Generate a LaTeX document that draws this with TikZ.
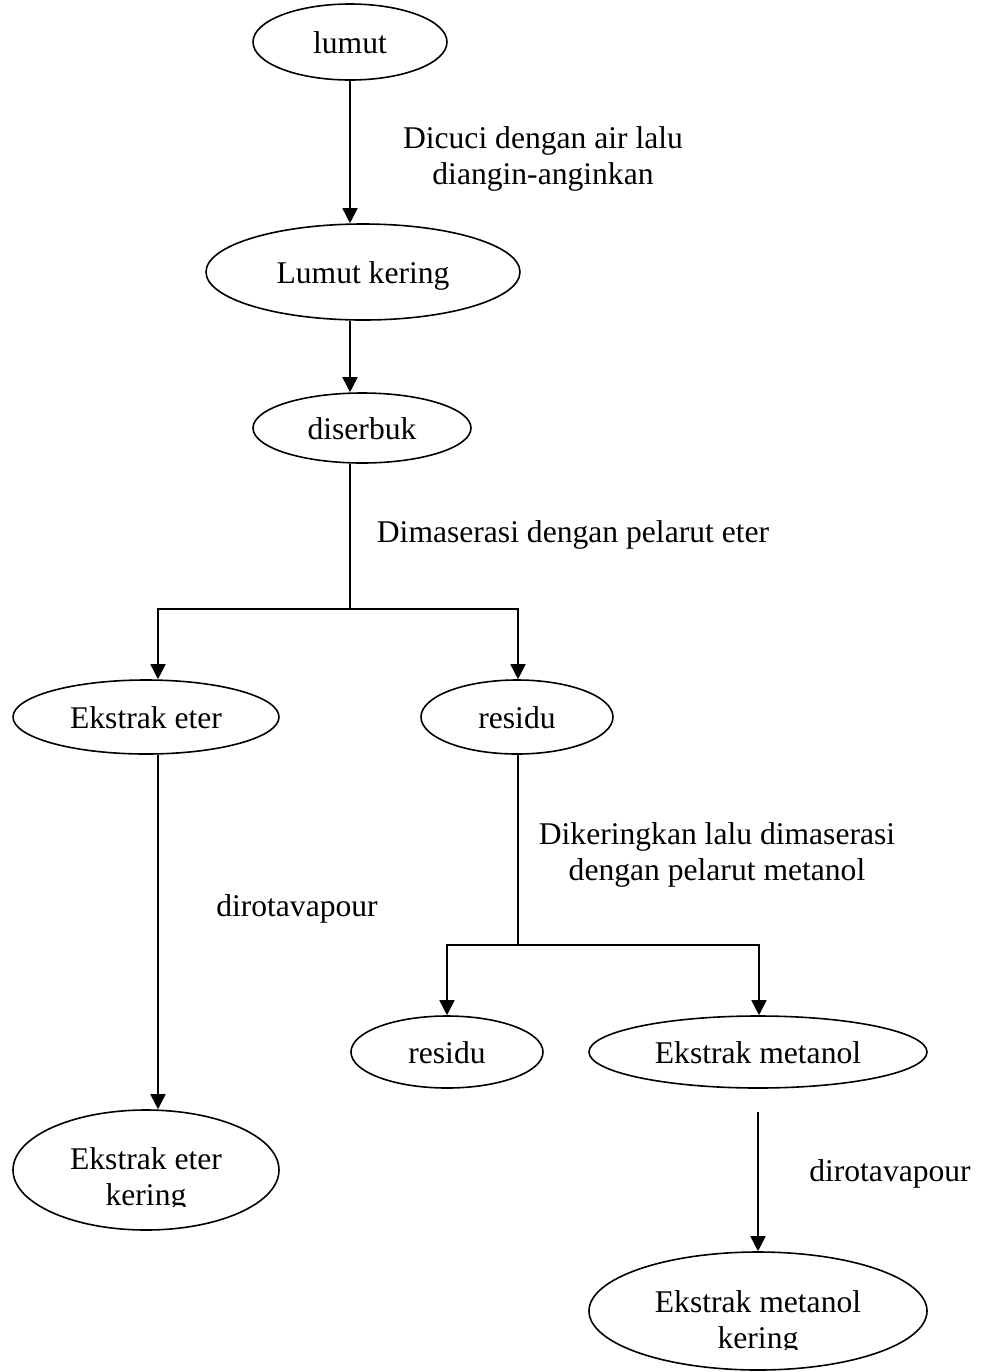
\documentclass[tikz,border=0pt]{standalone}
\usepackage{fontspec}
\setmainfont{Liberation Serif}
\usetikzlibrary{shapes.geometric,arrows.meta,calc}
\begin{document}
\begin{tikzpicture}[x=0.5pt,y=-0.5pt,
  every node/.style={font=\fontsize{15.8}{18}\selectfont},
  blob/.style={draw, ellipse, line width=0.8pt, inner sep=0pt, text height=1.15em, text depth=0em},
  arr/.style={draw, line width=0.8pt, -{Triangle[width=7.5pt,length=7.5pt]}},
  link/.style={draw, line width=0.8pt},
  note/.style={align=center, inner sep=0pt}]
\useasboundingbox (0,0) rectangle (984,1372);

% ellipses
\node[blob, minimum width=97pt, minimum height=38pt] (n1) at (350,42) {lumut};
\node[blob, minimum width=157pt, minimum height=48pt] (n2) at (363,272) {Lumut kering};
\node[blob, minimum width=109pt, minimum height=35pt] (n3) at (362,428) {diserbuk};
\node[blob, minimum width=133pt, minimum height=37pt] (n4) at (146,717) {Ekstrak eter};
\node[blob, minimum width=96pt, minimum height=37pt] (n5) at (517,717) {residu};
\node[blob, minimum width=133pt, minimum height=60pt] (n6) at (146,1170) {};
\node[blob, minimum width=96pt, minimum height=36pt] (n7) at (447,1052) {residu};
\node[blob, minimum width=169pt, minimum height=36pt] (n8) at (758,1052) {Ekstrak metanol};
\node[blob, minimum width=169pt, minimum height=59pt] (n9) at (758,1311) {};

% clipped two-line texts
\begin{scope}
  \clip (10,1120) rectangle (290,1206);
  \node[note] (t6) at (146,1180) {Ekstrak eter\\kering};
\end{scope}
\begin{scope}
  \clip (600,1260) rectangle (920,1349);
  \node[note] (t9) at (758,1323) {Ekstrak metanol\\kering};
\end{scope}

% labels
\node[note] (l1) at (543,159) {Dicuci dengan air lalu\\diangin-anginkan};
\node[note] (l2) at (573,535) {Dimaserasi dengan pelarut eter};
\node[note] (l3) at (297,909) {dirotavapour};
\node[note] (l4) at (717,855) {Dikeringkan lalu dimaserasi\\dengan pelarut metanol};
\node[note] (l5) at (890,1174) {dirotavapour};

% junctions
\coordinate (j1) at (350,609);
\coordinate (k4) at (158,609);
\coordinate (k5) at (518,609);
\coordinate (j2) at (518,945);
\coordinate (k7) at (447,945);
\coordinate (k8) at (759,945);
\coordinate (m8) at (758,1112);

% connectors
\draw[arr] (n1.south) -- (n1.south |- n2.north);
\draw[arr] (n2.south -| j1) -- (n3.north -| j1);
\draw[link] (n3.south -| j1) -- (j1);
\draw[arr] (j1) -- (k4) -- (k4 |- n4.north);
\draw[arr] (j1) -- (k5) -- (k5 |- n5.north);
\draw[arr] (n4.south -| k4) -- (n6.north -| k4);
\draw[link] (n5.south -| j2) -- (j2);
\draw[arr] (j2) -- (k7) -- (k7 |- n7.north);
\draw[arr] (j2) -- (k8) -- (k8 |- n8.north);
\draw[arr] (m8) -- (n9.north);
\end{tikzpicture}
\end{document}
